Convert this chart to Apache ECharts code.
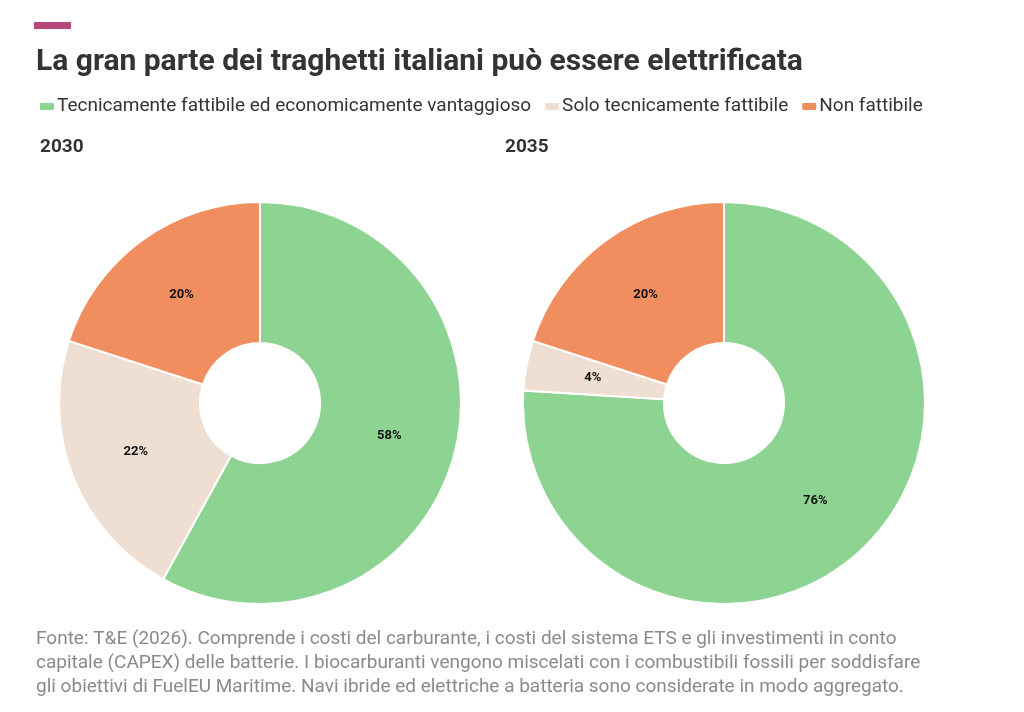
<!DOCTYPE html>
<html>
<head>
<meta charset="utf-8">
<script src="https://cdn.jsdelivr.net/npm/echarts@6/dist/echarts.min.js"></script>
<style>
html, body { margin: 0; padding: 0; background: #fff; }
#chart { width: 1024px; height: 712px; }
</style>
</head>
<body>
<div id="chart"></div>
<script>
var categories = ['Tecnicamente fattibile ed economicamente vantaggioso', 'Solo tecnicamente fattibile', 'Non fattibile'];
var colors = ['#8dd492', '#eedfd2', '#f08e5f'];
var years = ['2030', '2035'];
var values2030 = [58, 22, 20];
var values2035 = [76, 4, 20];

var chart = echarts.init(document.getElementById('chart'));
var font = 'Roboto, sans-serif';

function buildData(values) {
	return values.map(function (v, i) {
		return { name: categories[i], value: v, itemStyle: { color: colors[i] } };
	});
}

var pieBase = {
	type: 'pie',
	radius: [60, 201],
	startAngle: 90,
	clockwise: true,
	avoidLabelOverlap: false,
	itemStyle: { borderColor: '#fff', borderWidth: 2 },
	label: {
		show: true,
		position: 'inside',
		formatter: '{c}%',
		color: '#111',
		fontSize: 13,
		fontWeight: 'bold',
		fontFamily: font
	},
	labelLine: { show: false },
	emphasis: { scale: false },
	animation: false
};

var option = {
	backgroundColor: '#fff',
	title: [{
		text: 'La gran parte dei traghetti italiani può essere elettrificata',
		left: 31,
		top: 42,
		textStyle: { fontSize: 30, fontWeight: 'bold', color: '#333', fontFamily: font }
	}, {
		text: years[0],
		left: 35,
		top: 133,
		textStyle: { fontSize: 19, fontWeight: 'bold', color: '#333', fontFamily: font }
	}, {
		text: years[1],
		left: 500,
		top: 133,
		textStyle: { fontSize: 19, fontWeight: 'bold', color: '#333', fontFamily: font }
	}, {
		text: 'Fonte: T&E (2026). Comprende i costi del carburante, i costi del sistema ETS e gli investimenti in conto\ncapitale (CAPEX) delle batterie. I biocarburanti vengono miscelati con i combustibili fossili per soddisfare\ngli obiettivi di FuelEU Maritime. Navi ibride ed elettriche a batteria sono considerate in modo aggregato.',
		left: 31,
		top: 622,
		textStyle: { fontSize: 19, fontWeight: 'normal', color: '#8a8a8a', lineHeight: 24, fontFamily: font }
	}],
	graphic: [{
		type: 'rect',
		shape: { x: 34, y: 22, width: 37, height: 7 },
		style: { fill: '#b6497b' }
	}],
	legend: {
		data: categories,
		left: 33,
		top: 92,
		icon: 'roundRect',
		itemWidth: 16,
		itemHeight: 9,
		itemGap: 12,
		selectedMode: false,
		textStyle: { fontSize: 19, color: '#333', fontFamily: font, padding: [0, 0, 0, -3] }
	},
	series: [
		Object.assign({}, pieBase, { name: years[0], center: [260, 403], data: buildData(values2030) }),
		Object.assign({}, pieBase, { name: years[1], center: [724, 403], data: buildData(values2035) })
	]
};

chart.setOption(option);
</script>
</body>
</html>
